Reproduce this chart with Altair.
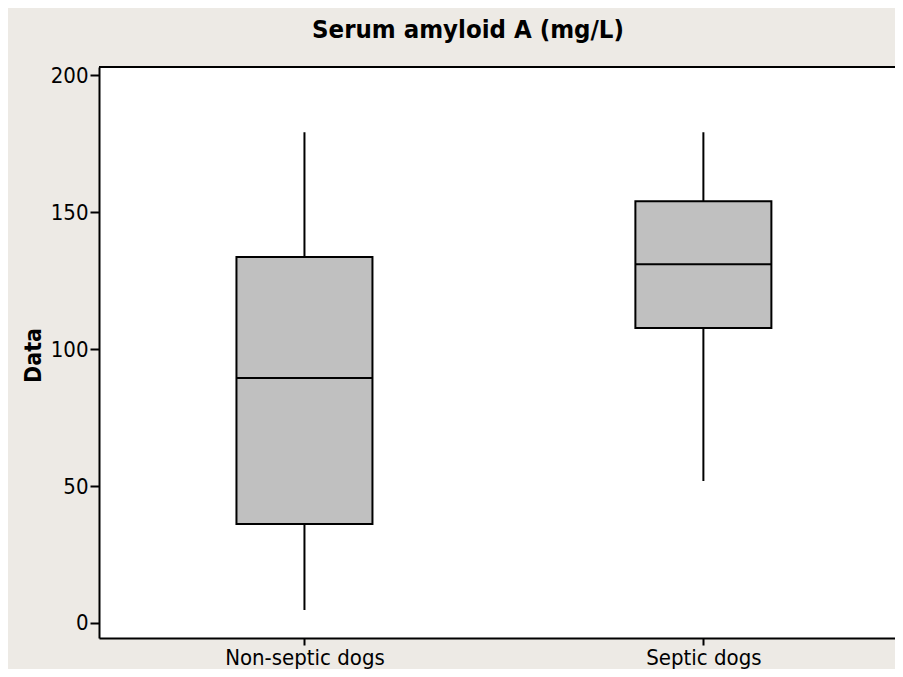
import altair as alt
import pandas as pd

groups = ["Non-septic dogs", "Septic dogs"]
whisker_low = [4.7, 51.8]
q1 = [36.1, 107.7]
median = [89.4, 131.0]
q3 = [133.6, 154.0]
whisker_high = [179.2, 179.2]
y_ticks = [0, 50, 100, 150, 200]

df = pd.DataFrame({
    "idx": list(range(len(groups))),
    "group": groups,
    "low": whisker_low,
    "q1": q1,
    "median": median,
    "q3": q3,
    "high": whisker_high,
})

FONT = "DejaVu Sans Condensed"
W, H = 796, 571

label_expr = " : ".join(
    f"datum.value == {i} ? '{g}'" for i, g in enumerate(groups[:-1])
) + f" : '{groups[-1]}'"

x_scale = alt.Scale(domain=[-0.5025, 1.4678], nice=False, zero=False)
x_axis = alt.Axis(values=list(range(len(groups))), labelExpr=label_expr,
                  labelAngle=0, labelFontSize=22, labelFont=FONT, labelColor="black",
                  domainColor="black", domainWidth=2, tickColor="black", tickWidth=2,
                  tickSize=7, labelPadding=2, grid=False, title=None)
x_enc = alt.X("idx:Q", scale=x_scale, axis=x_axis)

y_scale = alt.Scale(domain=[-5.5, 203], nice=False, zero=False)
y_axis = alt.Axis(values=y_ticks, title="Data", titleFont=FONT, titleFontSize=23,
                  titleFontWeight="bold", titleColor="black", titleAngle=-90,
                  titleAlign="center", titleBaseline="middle", titleX=-66, titleY=288,
                  labelFontSize=22, labelFont=FONT, labelColor="black",
                  domainColor="black", domainWidth=2, tickColor="black", tickWidth=2,
                  tickSize=9, labelPadding=2, grid=False)

base = alt.Chart(df)

whisk = base.mark_rule(color="black", strokeWidth=2).encode(
    x=x_enc,
    y=alt.Y("low:Q", scale=y_scale, axis=y_axis),
    y2="high:Q",
)
box = base.mark_bar(size=136, fill="#C0C0C0", stroke="black", strokeWidth=2).encode(
    x=x_enc,
    y=alt.Y("q1:Q", scale=y_scale, axis=y_axis),
    y2="q3:Q",
)
med = base.mark_tick(size=136, thickness=2, color="black", opacity=1,
                     orient="horizontal").encode(
    x=x_enc,
    y=alt.Y("median:Q", scale=y_scale, axis=y_axis),
)
top = alt.Chart(pd.DataFrame({"f": [0]})).mark_rule(color="black", strokeWidth=2).encode(
    y=alt.value(0), x=alt.value(0), x2=alt.value(W)
)

chart = alt.layer(whisk, box, med, top).properties(
    width=W,
    height=H,
    background="#EDEAE5",
    padding={"left": 91, "top": 59, "right": 0, "bottom": 31},
    autosize=alt.AutoSizeParams(type="none"),
    title=alt.TitleParams("Serum amyloid A (mg/L)", font=FONT, fontSize=25.5,
                          fontWeight="bold", color="black", anchor="middle",
                          frame="group", dx=-29, offset=21),
).configure_view(fill="white", stroke=None)

chart.save("out.html", embed_options={"renderer": "svg", "actions": False})
